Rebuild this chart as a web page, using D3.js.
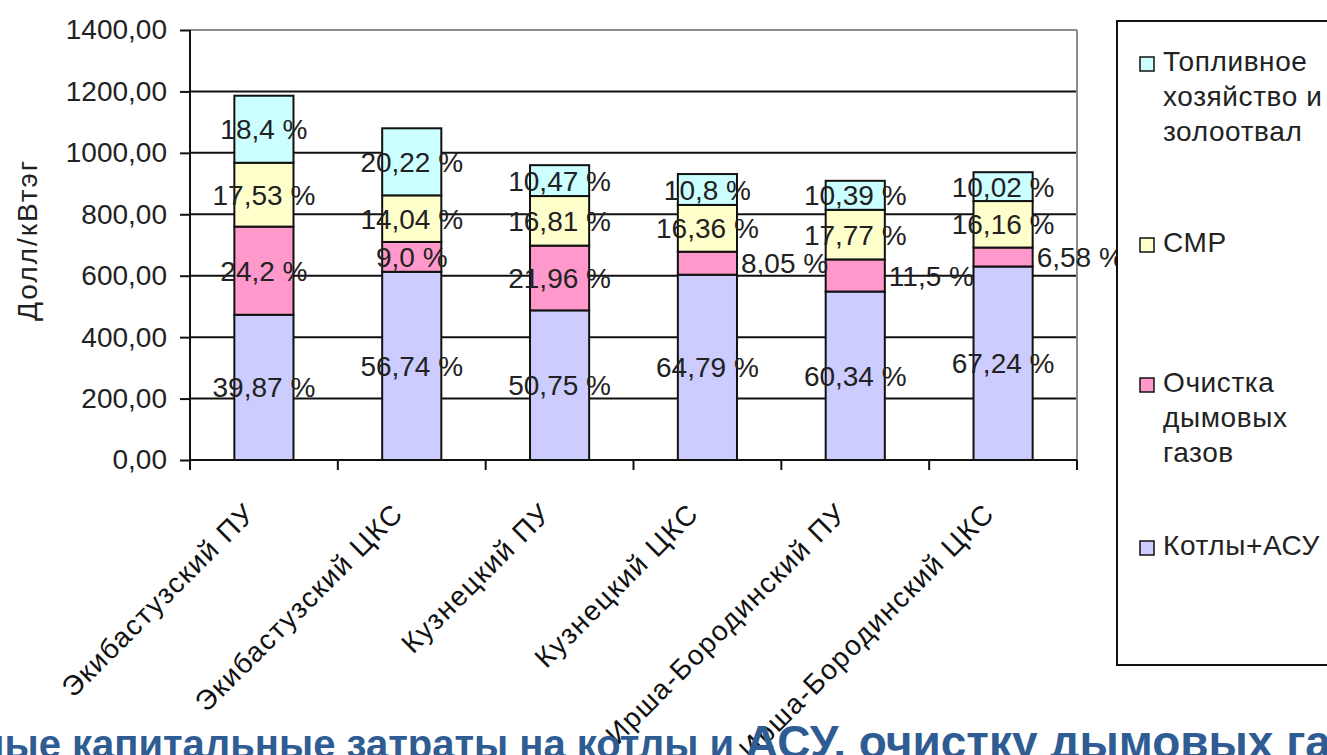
<!DOCTYPE html>
<html>
<head>
<meta charset="utf-8">
<script src="https://cdn.jsdelivr.net/npm/d3@7"></script>
<style>
  body { margin: 0; background: #fff; }
  svg { display: block; }
  text { font-family: "Liberation Sans", Arial, sans-serif; }
</style>
</head>
<body>
<svg id="chart" width="1327" height="755"></svg>
<script>
// Power-plant variants (x categories)
const categories = [
  "Экибастузский ПУ", "Экибастузский ЦКС",
  "Кузнецкий ПУ", "Кузнецкий ЦКС",
  "Ирша-Бородинский ПУ", "Ирша-Бородинский ЦКС"
];
// Total specific capital cost of each variant, $/kW
const totals = [1186, 1080, 960, 931, 909, 937];
// Shares of each cost item in the total, %
const boilerShare       = [39.87, 56.74, 50.75, 64.79, 60.34, 67.24];
const flueGasShare      = [24.2, 9.0, 21.96, 8.05, 11.5, 6.58];
const constructionShare = [17.53, 14.04, 16.81, 16.36, 17.77, 16.16];
const fuelAshShare      = [18.4, 20.22, 10.47, 10.8, 10.39, 10.02];
// Stack order, bottom to top
const seriesNames = ["Котлы+АСУ", "Очистка дымовых газов", "СМР", "Топливное хозяйство и золоотвал"];
const seriesColors = ["#ccccff", "#ff99cc", "#ffffcc", "#ccffff"];
const yTicks = [0, 200, 400, 600, 800, 1000, 1200, 1400];
const yTitle = "Долл/кВтэг";
const footerParts = ["Удельные капитальные затраты на котлы и ", "АСУ, очистку дымовых газов"];

const shares = [boilerShare, flueGasShare, constructionShare, fuelAshShare];

const svg = d3.select("#chart");
const plot = { left: 190, right: 1077, top: 30, bottom: 460 };

const x = d3.scaleBand()
  .domain(categories)
  .range([plot.left, plot.right])
  .paddingInner(0.6)
  .paddingOuter(0.3);
const y = d3.scaleLinear().domain([0, 1400]).range([plot.bottom, plot.top]);

const fmtNum = v => (Number.isInteger(v) ? v.toFixed(1) : String(v)).replace(".", ",");
const fmtTick = v => v.toFixed(2).replace(".", ",");

// Horizontal gridlines (top one is the grey plot border)
svg.append("g").selectAll("line")
  .data(yTicks.filter(v => v > 0))
  .join("line")
  .attr("x1", plot.left).attr("x2", plot.right)
  .attr("y1", d => y(d)).attr("y2", d => y(d))
  .attr("stroke", d => d === 1400 ? "#8c8c8c" : "#111")
  .attr("stroke-width", 2);
// Right plot border
svg.append("line")
  .attr("x1", plot.right).attr("x2", plot.right)
  .attr("y1", y(1400)).attr("y2", y(0))
  .attr("stroke", "#8c8c8c").attr("stroke-width", 2);

// Stacked segments
const segments = [];
categories.forEach((c, i) => {
  let base = 0;
  shares.forEach((s, k) => {
    const v = totals[i] * s[i] / 100;
    segments.push({ cat: c, i, k, y0: base, y1: base + v, share: s[i] });
    base += v;
  });
});

svg.append("g").selectAll("rect")
  .data(segments)
  .join("rect")
  .attr("x", d => x(d.cat))
  .attr("width", x.bandwidth())
  .attr("y", d => y(d.y1))
  .attr("height", d => y(d.y0) - y(d.y1))
  .attr("fill", d => seriesColors[d.k])
  .attr("stroke", "#111")
  .attr("stroke-width", 2);

// Y axis
const yAxis = svg.append("g")
  .attr("transform", `translate(${plot.left},0)`)
  .call(d3.axisLeft(y).tickValues(yTicks).tickSize(10).tickPadding(13).tickFormat(fmtTick));
yAxis.select(".domain").attr("stroke", "#111").attr("stroke-width", 2).attr("d", `M0,${y(1400)}V${y(0) + 10}`);
yAxis.selectAll(".tick line").attr("stroke", "#111").attr("stroke-width", 2);
yAxis.selectAll(".tick text").attr("font-size", 28).attr("fill", "#222")
  .attr("font-family", "\"Liberation Sans\", Arial, sans-serif");

// X axis line and tick marks at category boundaries
svg.append("line")
  .attr("x1", plot.left).attr("x2", plot.right)
  .attr("y1", y(0)).attr("y2", y(0))
  .attr("stroke", "#111").attr("stroke-width", 2);
const step = x.step();
svg.append("g").selectAll("line")
  .data(d3.range(categories.length + 1))
  .join("line")
  .attr("x1", i => plot.left + i * step).attr("x2", i => plot.left + i * step)
  .attr("y1", y(0)).attr("y2", y(0) + 10)
  .attr("stroke", "#111").attr("stroke-width", 2);

// Category labels, rotated
svg.append("g").selectAll("text")
  .data(categories)
  .join("text")
  .attr("transform", d => `translate(${x(d) + x.bandwidth() / 2 - 21},${y(0) + 41}) rotate(-45)`)
  .attr("text-anchor", "end")
  .attr("dy", "0.71em")
  .attr("font-size", 28)
  .attr("letter-spacing", 1.5)
  .attr("fill", "#111")
  .text(d => d);

// Data labels (share of total); small flue-gas segments are labelled to the right
const outside = d => d.k === 1 && d.i >= 3;
svg.append("g").selectAll("text")
  .data(segments)
  .join("text")
  .attr("x", d => outside(d) ? x(d.cat) + x.bandwidth() + 4 : x(d.cat) + x.bandwidth() / 2)
  .attr("y", d => y((d.y0 + d.y1) / 2))
  .attr("dy", "0.36em")
  .attr("text-anchor", d => outside(d) ? "start" : "middle")
  .attr("font-size", 28)
  .attr("fill", "#222")
  .text(d => fmtNum(d.share) + " %");

// Y axis title
svg.append("text")
  .attr("transform", `translate(37,240) rotate(-90)`)
  .attr("text-anchor", "middle")
  .attr("font-size", 28)
  .attr("letter-spacing", 2)
  .attr("fill", "#222")
  .text(yTitle);

// Legend
const legend = svg.append("g");
legend.append("rect")
  .attr("x", 1117).attr("y", 21)
  .attr("width", 260).attr("height", 644)
  .attr("fill", "#fff").attr("stroke", "#111").attr("stroke-width", 2);
const legendItems = [
  { k: 3, lines: ["Топливное", "хозяйство и", "золоотвал"], y: 71 },
  { k: 2, lines: ["СМР"], y: 252 },
  { k: 1, lines: ["Очистка", "дымовых", "газов"], y: 392 },
  { k: 0, lines: ["Котлы+АСУ"], y: 555 }
];
legendItems.forEach(item => {
  legend.append("rect")
    .attr("x", 1140).attr("y", item.y - 14)
    .attr("width", 14).attr("height", 14)
    .attr("fill", seriesColors[item.k])
    .attr("stroke", "#111").attr("stroke-width", 1.5);
  const t = legend.append("text")
    .attr("x", 1163).attr("y", item.y)
    .attr("font-size", 28).attr("letter-spacing", 0.6).attr("fill", "#222");
  item.lines.forEach((ln, j) => {
    t.append("tspan").attr("x", 1163).attr("dy", j === 0 ? 0 : 35).text(ln);
  });
});

// Footer title (partly outside the frame)
const footer = svg.append("text")
  .attr("y", 758)
  .attr("font-weight", "bold")
  .attr("fill", "#2e5c93");
footer.append("tspan").attr("font-size", 40).text(footerParts[0]);
footer.append("tspan").attr("font-size", 46).text(footerParts[1]);
const offset = footer.node().getSubStringLength(0, footerParts[0].indexOf("капитальные"));
footer.attr("x", 72 - offset);
</script>
</body>
</html>
